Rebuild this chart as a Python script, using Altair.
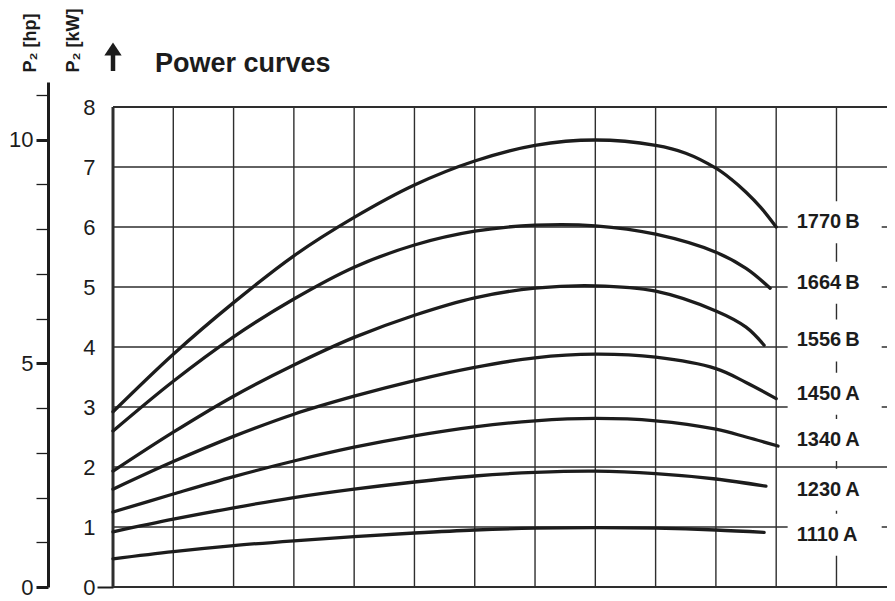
import altair as alt
import pandas as pd

# ---- data ----
grid_x = list(range(0, 13))          # vertical grid lines (column index)
grid_y = list(range(0, 9))           # horizontal grid lines, P2 [kW]
kw_ticks = list(range(0, 9))
hp_ticks = list(range(0, 12))
KW_PER_HP = 0.7457

x_base = [0, 1, 2, 3, 4, 5, 6, 7, 8, 9, 10]

names = ["1770\u2009B", "1664\u2009B", "1556\u2009B", "1450\u2009A",
         "1340\u2009A", "1230\u2009A", "1110\u2009A"]
curve_x = [
    [0, 1, 2, 3, 4, 5, 6, 7, 8, 9, 9.5, 10, 10.25, 10.5, 10.75, 11.0],
    x_base + [10.5, 10.9],
    x_base + [10.5, 10.8],
    x_base + [10.5, 11.0],
    x_base + [10.5, 11.03],
    x_base + [10.83],
    x_base + [10.8],
]
curve_y = [
    [2.92, 3.88, 4.74, 5.52, 6.16, 6.70, 7.10, 7.36, 7.45, 7.36, 7.23, 6.98, 6.80, 6.58, 6.32, 6.00],
    [2.60, 3.43, 4.17, 4.80, 5.33, 5.70, 5.93, 6.03, 6.02, 5.88, 5.58, 5.31, 4.98],
    [1.93, 2.58, 3.18, 3.70, 4.16, 4.53, 4.82, 4.98, 5.02, 4.93, 4.60, 4.33, 4.03],
    [1.63, 2.09, 2.51, 2.88, 3.18, 3.44, 3.66, 3.82, 3.88, 3.83, 3.64, 3.41, 3.14],
    [1.25, 1.55, 1.84, 2.10, 2.33, 2.52, 2.67, 2.77, 2.81, 2.77, 2.63, 2.50, 2.35],
    [0.92, 1.13, 1.32, 1.49, 1.63, 1.75, 1.85, 1.91, 1.93, 1.89, 1.80, 1.68],
    [0.47, 0.59, 0.69, 0.77, 0.84, 0.90, 0.95, 0.98, 0.99, 0.98, 0.95, 0.91],
]
label_y = [6.08, 5.07, 4.11, 3.22, 2.45, 1.62, 0.87]

title_text = "Power curves"
kw_title = "P\u2082 [kW]"
hp_title = "P\u2082 [hp]"

# ---- tables ----
rows = []
for n, xs_, ys_ in zip(names, curve_x, curve_y):
    for xv, yv in zip(xs_, ys_):
        rows.append({"name": n, "x": xv, "y": yv})
curves_df = pd.DataFrame(rows)
labels_df = pd.DataFrame({"name": names, "y": label_y})
vgrid_df = pd.DataFrame({"x": grid_x})
hgrid_df = pd.DataFrame({"y": grid_y})
hp_df = pd.DataFrame({"kw": [h * KW_PER_HP for h in hp_ticks]})

W = 774
H = 505
X_MAX = W / 60.29
Y_MAX = H / 60
INK = "#1c1c1c"
GRID = "#2e2e2e"

xs = alt.Scale(domain=[0, X_MAX], nice=False, zero=False)
ys = alt.Scale(domain=[0, Y_MAX], nice=False, zero=False)

kw_axis = alt.Axis(
    orient="left", values=kw_ticks, domain=False, grid=False,
    tickSize=16, tickWidth=2, tickColor=INK,
    tickOpacity={"condition": {"test": "datum.value == 0", "value": 1}, "value": 0},
    labelPadding=2, labelFont="Liberation Sans", labelFontSize=22,
    labelColor=INK, labelBaseline="middle", labelOverlap=False,
    title=kw_title, titleFont="Liberation Sans", titleFontSize=18,
    titleFontWeight="bold", titleColor=INK, titleAngle=270,
    titleAlign="left", titleBaseline="alphabetic", titleX=-35, titleY=-10,
)
x_axis = alt.Axis(
    orient="bottom", values=[0], domain=False, grid=False, labels=False,
    tickSize=10, tickWidth=2.5, tickColor=INK, title=None,
)
hp_axis = alt.Axis(
    orient="left", offset=65, values=[h * KW_PER_HP for h in hp_ticks],
    domain=True, domainWidth=3, domainColor=INK, grid=False,
    tickSize=12, tickColor=INK,
    tickWidth={"condition": {"test": "round(datum.value / %f) %% 5 == 0" % KW_PER_HP, "value": 3}, "value": 1.3},
    labelExpr="round(datum.value / %f) %% 5 == 0 ? format(round(datum.value / %f), 'd') : ''" % (KW_PER_HP, KW_PER_HP),
    labelPadding=3, labelFont="Liberation Sans", labelFontSize=22,
    labelColor=INK, labelBaseline="middle", labelOverlap=False,
    title=hp_title, titleFont="Liberation Sans", titleFontSize=18,
    titleFontWeight="bold", titleColor=INK, titleAngle=270,
    titleAlign="left", titleBaseline="alphabetic", titleX=-13, titleY=-10,
)

vgrid = alt.Chart(vgrid_df).transform_calculate(y0="0", y1="8").mark_rule(color=GRID).encode(
    x=alt.X("x:Q", scale=xs, axis=x_axis),
    y=alt.Y("y0:Q", scale=ys, axis=None),
    y2="y1:Q",
    strokeWidth=alt.condition("datum.x == 0", alt.value(3), alt.value(1.4)),
)
hgrid = alt.Chart(hgrid_df).transform_calculate(x0="0", x1=str(X_MAX)).mark_rule(color=GRID).encode(
    y=alt.Y("y:Q", scale=ys, axis=kw_axis),
    x=alt.X("x0:Q", scale=xs, axis=None),
    x2="x1:Q",
    strokeWidth=alt.condition("datum.y == 0 || datum.y == 8", alt.value(2.2), alt.value(1.4)),
)
boxes = alt.Chart(labels_df).transform_calculate(
    bx0="11.19", bx1="12.75", by0="datum.y - 0.35", by1="datum.y + 0.35"
).mark_rect(fill="white").encode(
    x=alt.X("bx0:Q", scale=xs, axis=None), x2="bx1:Q",
    y=alt.Y("by0:Q", scale=ys, axis=None), y2="by1:Q",
)
lines = alt.Chart(curves_df).mark_line(
    color=INK, strokeWidth=3.3, interpolate="catmull-rom", strokeCap="round"
).encode(
    x=alt.X("x:Q", scale=xs, axis=None),
    y=alt.Y("y:Q", scale=ys, axis=None),
    detail="name:N",
    order="x:Q",
)
labels = alt.Chart(labels_df).transform_calculate(lx="11.34").mark_text(
    align="left", baseline="middle", font="Liberation Sans", fontSize=20,
    fontWeight="bold", color=INK
).encode(
    x=alt.X("lx:Q", scale=xs, axis=None),
    y=alt.Y("y:Q", scale=ys, axis=None),
    text="name:N",
)
title = alt.Chart(pd.DataFrame({"t": [title_text]})).mark_text(
    align="left", baseline="alphabetic", font="Liberation Sans", fontSize=27,
    fontWeight="bold", color=INK
).encode(x=alt.value(42), y=alt.value(-10), text="t:N")
arrow_shaft = alt.Chart(pd.DataFrame({"a": [0]})).mark_rule(color=INK, strokeWidth=4.5).encode(
    x=alt.value(0), y=alt.value(-34), y2=alt.value(-11)
)
arrow_head = alt.Chart(pd.DataFrame({"a": [0]})).mark_point(
    shape="M-1,0.75L0,-0.75L1,0.75Z", filled=True, color=INK, opacity=1, size=300, strokeWidth=0
).encode(x=alt.value(0), y=alt.value(-33))

hp_layer = alt.Chart(hp_df).mark_rule(opacity=0).encode(
    y=alt.Y("kw:Q", scale=ys, axis=hp_axis),
)

chart = alt.layer(
    vgrid, hgrid, boxes, lines, labels, title, arrow_shaft, arrow_head, hp_layer
).resolve_axis(y="independent").properties(
    width=W, height=H,
    autosize=alt.AutoSizeParams(type="none"),
    padding={"left": 105, "top": 74, "right": 0, "bottom": 12},
    background="white",
).configure_view(stroke=None)

chart.save("out.html", embed_options={"renderer": "svg", "actions": False})
